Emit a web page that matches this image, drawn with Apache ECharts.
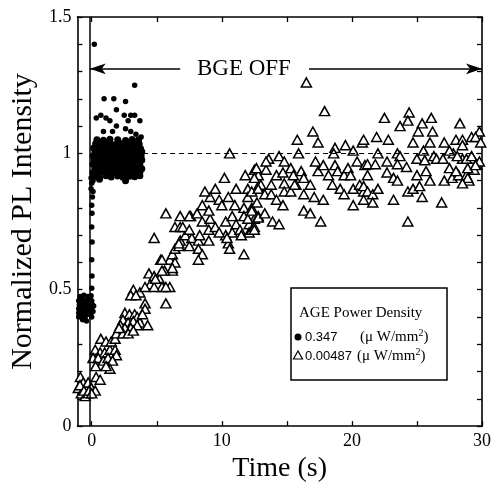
<!DOCTYPE html>
<html>
<head>
<meta charset="utf-8">
<script src="https://cdn.jsdelivr.net/npm/echarts@6/dist/echarts.min.js"></script>
<style>
  html, body { margin: 0; padding: 0; background: #fff; }
  #chart { width: 497px; height: 488px; }
</style>
</head>
<body>
<div id="chart"></div>
<script>
// time (s), normalized PL -- 0.347 uW/mm2 (filled dots)
const strongBefore = [
  [-1.0,0.40],[-0.75,0.405],[-0.5,0.40],[-0.25,0.41],[0.0,0.40],
  [-1.0,0.415],[-0.8,0.42],[-0.55,0.415],[-0.3,0.42],[-0.05,0.415],[0.1,0.42],
  [-1.0,0.43],[-0.75,0.435],[-0.5,0.43],[-0.25,0.435],[0.0,0.43],[0.15,0.44],
  [-0.95,0.445],[-0.7,0.45],[-0.45,0.445],[-0.2,0.45],[0.05,0.445],
  [-1.0,0.46],[-0.75,0.465],[-0.5,0.46],[-0.25,0.465],[0.0,0.46],
  [-0.9,0.475],[-0.6,0.48],[-0.3,0.475],[-0.05,0.478],[-0.7,0.39],[-0.4,0.385]
];
const strongRise = [
  [0.0,0.505],[0.02,0.55],[0.0,0.61],[0.03,0.675],[0.0,0.73],[0.02,0.78],
  [0.0,0.81],[0.05,0.84],[-0.05,0.87],[0.1,0.86],[0.0,0.89],[-0.05,0.91],[0.1,0.9]
];
const strongOff = [
  [0.2,0.915],[0.6,0.912],[1.1,0.918],[1.5,0.913],[2.0,0.917],[2.4,0.912],[2.9,0.916],[3.3,0.914],[3.7,0.918],
  [0.1,0.93],[0.45,0.928],[0.8,0.933],[1.2,0.93],[1.55,0.927],[1.9,0.932],[2.3,0.93],[2.65,0.928],[3.0,0.933],[3.35,0.93],[3.7,0.931],
  [0.25,0.945],[0.6,0.943],[0.95,0.947],[1.3,0.944],[1.7,0.946],[2.05,0.942],[2.45,0.947],[2.8,0.945],[3.15,0.943],[3.55,0.946],[3.85,0.944],
  [0.1,0.96],[0.4,0.958],[0.8,0.962],[1.15,0.96],[1.5,0.957],[1.85,0.962],[2.2,0.96],[2.6,0.958],[2.95,0.961],[3.3,0.96],[3.7,0.958],
  [0.2,0.975],[0.55,0.973],[0.9,0.977],[1.3,0.975],[1.65,0.972],[2.0,0.976],[2.4,0.975],[2.75,0.973],[3.1,0.977],[3.5,0.974],[3.85,0.976],
  [0.1,0.99],[0.45,0.988],[0.8,0.992],[1.15,0.99],[1.5,0.987],[1.9,0.992],[2.25,0.99],[2.6,0.988],[2.95,0.991],[3.35,0.99],[3.7,0.988],
  [0.25,1.005],[0.6,1.003],[0.95,1.007],[1.35,1.005],[1.7,1.002],[2.05,1.006],[2.45,1.005],[2.8,1.003],[3.2,1.007],[3.55,1.004],[3.85,1.006],
  [0.15,1.02],[0.5,1.018],[0.85,1.022],[1.2,1.02],[1.6,1.017],[1.95,1.022],[2.3,1.02],[2.7,1.018],[3.05,1.021],[3.4,1.02],[3.75,1.018],
  [0.3,1.035],[0.7,1.033],[1.05,1.037],[1.45,1.035],[1.8,1.032],[2.2,1.036],[2.55,1.035],[2.9,1.033],[3.3,1.037],[3.65,1.034],
  [0.4,1.05],[0.9,1.048],[1.4,1.052],[2.0,1.05],[2.6,1.047],[3.1,1.051],[3.6,1.05],
  [0.35,0.922],[1.3,0.921],[2.2,0.923],[3.1,0.922],[0.6,0.952],[1.5,0.951],[2.4,0.953],[3.3,0.95],
  [0.35,0.982],[1.3,0.983],[2.2,0.981],[3.2,0.982],[0.5,1.012],[1.5,1.011],[2.5,1.013],[3.4,1.01],
  [0.9,1.028],[1.8,1.027],[2.8,1.029],[3.6,1.026],[1.1,0.968],[2.0,0.967],[2.9,0.969],[3.8,0.99],
  [2.6,0.9],[0.6,0.905]
];
const strongHigh = [
  [0.2,1.40],[3.3,1.25],[0.95,1.20],[1.7,1.20],[2.6,1.19],[1.9,1.16],
  [0.35,1.13],[0.7,1.14],[1.1,1.13],[2.5,1.14],[3.0,1.14],[3.3,1.14],
  [1.4,1.12],[1.9,1.10],[2.8,1.12],[3.7,1.12],
  [0.9,1.08],[1.6,1.08],[2.6,1.09],[3.0,1.08],[3.8,1.06],[3.4,1.07]
];

// time (s), normalized PL -- 0.00487 uW/mm2 (open triangles)
const weakEarly = [
  [-1.03,0.14],[-0.87,0.18],[-0.8,0.12],[-0.65,0.16],[-0.5,0.14],[-0.5,0.11],[-0.27,0.16],[-0.27,0.12],
  [-0.04,0.14],[0.27,0.13],[0.34,0.18],[-0.9,0.15],[-0.6,0.13],[-0.2,0.13],[0.0,0.12],
  [0.27,0.28],[0.65,0.27],[1.0,0.27],[1.4,0.28],[1.8,0.28],[1.9,0.26],[0.1,0.25],[0.5,0.25],[0.9,0.24],
  [1.25,0.25],[1.6,0.24],[1.4,0.21],[0.65,0.17],[0.7,0.32],[1.1,0.31],[1.5,0.31],[1.8,0.32],[0.3,0.22],[1.1,0.22],
  [2.55,0.415],[2.9,0.41],[3.3,0.41],[3.5,0.40],[2.4,0.39],[2.8,0.38],[3.2,0.385],[3.7,0.38],[2.2,0.37],
  [2.55,0.36],[3.0,0.36],[3.5,0.37],[1.9,0.34],[2.4,0.34],[2.8,0.34],[3.2,0.35],[4.1,0.45],[4.1,0.43],
  [3.9,0.41],[4.3,0.37],[3.2,0.50],[3.7,0.49],[3.0,0.48],[3.4,0.48],[2.1,0.36]
];
const weakRise = [
  [4.4,0.56],[4.8,0.55],[5.2,0.54],[5.4,0.51],[6.0,0.51],[4.5,0.52],[4.1,0.51],[4.8,0.51],[5.7,0.45],
  [4.8,0.69],[5.3,0.61],[6.0,0.61],[6.2,0.63],[6.4,0.65],[6.7,0.66],[6.8,0.68],[6.2,0.57],[5.6,0.57],
  [5.4,0.61],[6.4,0.60],[6.2,0.58],[5.4,0.57],[4.9,0.54],[5.7,0.51],[5.7,0.78],
  [6.8,0.77],[7.6,0.77],[6.4,0.73],[6.8,0.73],[7.2,0.70],[7.7,0.69],[8.2,0.68],[9.0,0.68],[6.7,0.67],
  [7.5,0.66],[8.2,0.65],[8.5,0.63],[8.2,0.61],[7.0,0.73],[7.5,0.72],[8.3,0.70],[9.0,0.72],[7.5,0.77],
  [8.1,0.78],[8.5,0.75],[9.1,0.76],[9.5,0.73],[8.5,0.81],[9.0,0.79],[9.1,0.84],[8.7,0.86],[9.5,0.87],
  [9.8,0.83],[10.0,0.81],[10.5,0.84]
];
const weakMid = [
  [10.6,1.0],[10.2,0.91],[11.8,0.92],[12.5,0.94],[12.8,0.92],[11.1,0.87],[12.0,0.87],[12.8,0.88],
  [11.0,0.81],[11.7,0.80],[12.0,0.84],[12.3,0.80],[12.7,0.82],[10.3,0.75],[10.8,0.77],[11.1,0.74],
  [11.7,0.77],[12.1,0.74],[12.5,0.76],[10.3,0.70],[10.8,0.71],[11.4,0.72],[12.1,0.71],[10.5,0.67],
  [10.6,0.65],[11.7,0.63],[9.8,0.71],[10.4,0.69],[11.5,0.70],[12.3,0.72],[12.5,0.73],[12.0,0.76],
  [12.8,0.77],
  [12.66,0.946],[13.4,0.94],[14.2,0.92],[14.7,0.93],[12.5,0.91],[13.0,0.885],[13.8,0.885],[14.8,0.89],
  [12.3,0.86],[12.8,0.87],[13.3,0.85],[13.8,0.85],[14.2,0.83],[14.7,0.81],[14.8,0.86],[13.6,0.98],
  [14.4,0.99],[12.3,0.79],[12.8,0.765],[13.3,0.78],[13.9,0.75],[14.4,0.74],[12.5,0.72],
  [14.8,0.97],[13.4,0.97],[15.3,0.946],
  [15.5,0.92],[16.1,0.935],[15.7,0.885],[16.3,0.91],[16.8,0.885],[17.4,0.935],[17.2,0.97],[17.8,0.957],
  [15.3,0.86],[15.6,0.885],[15.8,1.05],[15.9,1.0],[17.0,1.08],[17.4,1.04],[17.9,1.155],[16.5,1.26],
  [16.3,0.85],[17.1,0.84],[17.8,0.83],[16.3,0.79],[16.8,0.78],[17.6,0.75],[18.2,0.92]
];
const weakLate = [
  [18.7,0.957],[18.9,0.935],[19.4,0.92],[19.7,0.946],[19.9,0.92],[20.4,0.97],[21.0,0.957],[18.7,1.02],
  [19.5,1.03],[20.1,1.01],[20.8,1.04],[18.5,0.885],[19.1,0.87],[19.4,0.85],[20.1,0.87],[20.6,0.885],
  [20.9,0.86],[20.1,0.81],[18.6,1.0],
  [22.5,1.13],[24.4,1.15],[23.7,1.10],[24.3,1.12],[25.4,1.11],[26.1,1.13],[28.3,1.11],[25.1,1.08],
  [26.2,1.08],[20.9,1.05],[21.9,1.06],[22.8,1.05],[24.7,1.04],[26.0,1.04],[27.1,1.04],[28.0,1.05],
  [28.5,1.05],[29.2,1.06],[29.8,1.08],
  [22.0,1.0],[23.5,1.0],[23.7,0.99],[25.5,1.01],[26.3,0.99],[26.5,0.98],[27.0,0.98],[27.8,1.0],
  [28.5,0.98],[29.3,0.98],
  [21.2,0.96],[21.8,0.96],[22.7,0.97],[23.5,0.96],[24.2,0.95],[25.0,0.98],[25.6,0.975],[21.2,0.92],
  [22.7,0.93],[23.2,0.91],[23.5,0.90],[25.0,0.92],[25.7,0.935],[26.0,0.90],[27.1,0.90],[27.7,0.91],
  [28.2,0.92],[28.8,0.92],[29.0,0.90],[29.4,0.94],[29.6,0.96],
  [20.9,0.88],[21.2,0.86],[21.6,0.85],[20.9,0.83],[21.6,0.82],[22.0,0.87],[23.2,0.83],[24.3,0.86],
  [24.7,0.87],[25.2,0.88],[25.4,0.84],[26.9,0.82],[24.3,0.75],
  [28.5,1.03],[29.5,1.06],[29.9,1.04],[27.5,1.01],[28.1,0.99],[28.8,0.98],[29.2,0.99],[29.8,0.97],
  [27.5,0.946],[28.0,0.935],[28.9,0.946],[29.5,0.957],[28.9,0.91],[28.5,0.89]
];

const xLabels = [0, 10, 20, 30];
const xTicks = [0, 5, 10, 15, 20, 25, 30];
const yTicks = [0, 0.1, 0.2, 0.3, 0.4, 0.5, 0.6, 0.7, 0.8, 0.9, 1.0, 1.1, 1.2, 1.3, 1.4, 1.5];
const bgeStart = -0.15, arrowY = 1.31;

const chart = echarts.init(document.getElementById('chart'));
const serif = 'Liberation Serif';
const axisLine = { onZero: false, lineStyle: { color: '#000', width: 1.6 } };
const tick = { inside: true, length: 5, lineStyle: { color: '#000', width: 1.3 } };

const option = {
  animation: false,
  grid: { left: 74, right: 15, top: 17, bottom: 56 },
  xAxis: [
    {
      type: 'value', min: -1.1, max: 30,
      name: 'Time (s)', nameLocation: 'middle', nameGap: 20,
      nameTextStyle: { fontFamily: serif, fontSize: 28, color: '#000', verticalAlign: 'top' },
      axisLine: axisLine,
      axisTick: Object.assign({ customValues: xTicks }, tick),
      axisLabel: { customValues: xLabels, fontFamily: serif, fontSize: 18, color: '#000', margin: 6 },
      splitLine: { show: false }
    },
    {
      type: 'value', min: -1.1, max: 30, position: 'top',
      axisLine: axisLine,
      axisTick: Object.assign({ customValues: xTicks }, tick),
      axisLabel: { show: false },
      splitLine: { show: false }
    }
  ],
  yAxis: [
    {
      type: 'value', min: 0, max: 1.5, interval: 0.5,
      name: 'Normalized PL Intensity', nameLocation: 'middle', nameGap: 37,
      nameTextStyle: { fontFamily: serif, fontSize: 30, color: '#000' },
      axisLine: axisLine,
      axisTick: Object.assign({ customValues: yTicks }, tick),
      axisLabel: { fontFamily: serif, fontSize: 18, color: '#000', margin: 6 },
      splitLine: { show: false }
    },
    {
      type: 'value', min: 0, max: 1.5, position: 'right',
      axisLine: axisLine,
      axisTick: Object.assign({ customValues: yTicks }, tick),
      axisLabel: { show: false },
      splitLine: { show: false }
    }
  ],
  series: [
    {
      name: '0.347',
      type: 'scatter',
      symbol: 'circle',
      symbolSize: 5.5,
      itemStyle: { color: '#000', opacity: 1 },
      data: strongBefore.concat(strongRise, strongHigh),
      markLine: {
        silent: true,
        symbol: ['none', 'none'],
        label: { show: false },
        data: [
          [{ coord: [bgeStart, 0], lineStyle: { type: 'solid', width: 1.5, color: '#000' } }, { coord: [bgeStart, 1.5] }],
          [{ coord: [3.95, 1], lineStyle: { type: [5, 4], width: 1.2, color: '#000' } }, { coord: [30, 1] }],
          [{ coord: [6.8, arrowY], lineStyle: { type: 'solid', width: 1.5, color: '#000' } },
           { coord: [bgeStart, arrowY], symbol: 'arrow', symbolSize: [8, 16] }],
          [{ coord: [16.7, arrowY], lineStyle: { type: 'solid', width: 1.5, color: '#000' } },
           { coord: [30, arrowY], symbol: 'arrow', symbolSize: [8, 16] }]
        ]
      }
    },
    {
      // dense part of the same data set after BGE is switched off
      name: '0.347 off',
      type: 'scatter',
      symbol: 'circle',
      symbolSize: 7,
      itemStyle: { color: '#000', opacity: 1 },
      data: strongOff
    },
    {
      name: '0.00487',
      type: 'scatter',
      symbol: 'triangle',
      symbolSize: [10, 9],
      itemStyle: { color: '#fff', borderColor: '#000', borderWidth: 1.5, opacity: 1 },
      data: weakEarly.concat(weakRise, weakMid, weakLate)
    }
  ]
};

chart.setOption(option);

// BGE OFF label and the legend box
const bgeAt = chart.convertToPixel({ xAxisIndex: 0, yAxisIndex: 0 }, [11.7, arrowY]);
const unitRich = {
  n: { fontFamily: serif, fontSize: 15, color: '#000', lineHeight: 18 },
  s: { fontFamily: serif, fontSize: 10, color: '#000', verticalAlign: 'top', lineHeight: 18 }
};
chart.setOption({
  graphic: [
    {
      type: 'text', x: bgeAt[0], y: bgeAt[1],
      style: { text: 'BGE OFF', fontFamily: serif, fontSize: 23, fill: '#000', align: 'center', verticalAlign: 'middle' }
    },
    {
      type: 'group', x: 291, y: 288,
      children: [
        { type: 'rect', shape: { x: 0, y: 0, width: 156, height: 92 }, style: { fill: '#fff', stroke: '#000', lineWidth: 1.5 } },
        { type: 'text', x: 8, y: 25, style: { text: 'AGE Power Density', fontFamily: serif, fontSize: 15, fill: '#000', verticalAlign: 'middle' } },
        { type: 'circle', shape: { cx: 7, cy: 49, r: 3.5 }, style: { fill: '#000' } },
        { type: 'text', x: 14, y: 49, style: { text: '0.347', fontFamily: 'Liberation Sans', fontSize: 13, fill: '#000', verticalAlign: 'middle' } },
        { type: 'text', x: 69, y: 49, style: { text: '{n|(μ W/mm}{s|2}{n|)}', rich: unitRich, verticalAlign: 'middle' } },
        { type: 'polygon', shape: { points: [[7, 63], [2.5, 71], [11.5, 71]] }, style: { fill: '#fff', stroke: '#000', lineWidth: 1.2 } },
        { type: 'text', x: 14, y: 68, style: { text: '0.00487', fontFamily: 'Liberation Sans', fontSize: 13, fill: '#000', verticalAlign: 'middle' } },
        { type: 'text', x: 66, y: 68, style: { text: '{n|(μ W/mm}{s|2}{n|)}', rich: unitRich, verticalAlign: 'middle' } }
      ]
    }
  ]
});

window.addEventListener('resize', () => chart.resize());
</script>
</body>
</html>
